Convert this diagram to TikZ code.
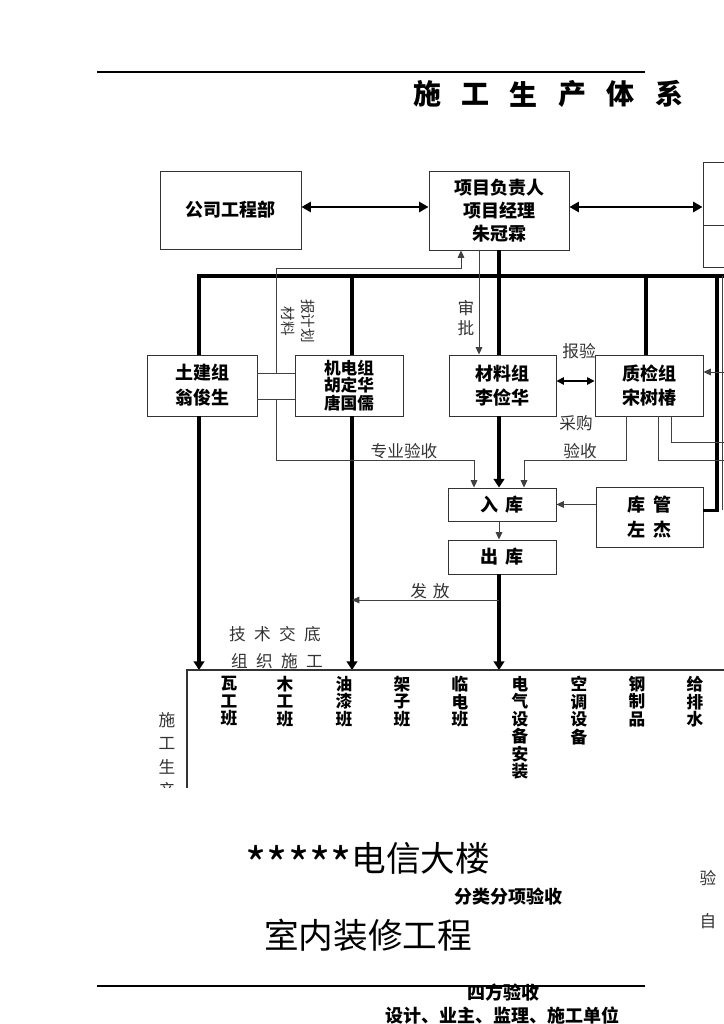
\documentclass[tikz,border=0pt]{standalone}
\usepackage{fontspec}
\setmainfont{Noto Sans CJK SC}
\usetikzlibrary{arrows.meta,calc}
\tikzset{
  box/.style={draw=black!80, line width=0.7pt, inner sep=0pt, align=center, font=\bfseries\fontsize{13.5}{17}\selectfont},
  thk/.style={line width=2.5pt},
  thn/.style={line width=0.65pt, draw=black!75},
  tip/.style={-{Triangle[length=6.5pt,width=8pt]}},
  dtip/.style={{Triangle[length=7pt,width=7.5pt]}-{Triangle[length=7pt,width=7.5pt]}},
  stip/.style={-{Triangle[length=5.5pt,width=5pt]}},
  sdtip/.style={{Triangle[length=5.5pt,width=5.5pt]}-{Triangle[length=5.5pt,width=5.5pt]}},
  lbl/.style={font=\fontsize{12.5}{15}\selectfont, text=black!80, inner sep=0pt, align=center},
  col/.style={font=\bfseries\fontsize{12.5}{13.1}\selectfont, align=center, anchor=north, inner sep=0pt},
  ttl/.style={font=\bfseries\fontsize{21}{24}\selectfont, inner sep=0pt},
  big/.style={font=\fontsize{26}{30}\selectfont, inner sep=0pt},
  bsm/.style={font=\bfseries\fontsize{13.5}{16}\selectfont, inner sep=0pt},
}
\begin{document}
\begin{tikzpicture}[x=0.75pt,y=-0.75pt]
\useasboundingbox (0,0) rectangle (724,1024);
\fill[white] (0,0) rectangle (724,1024);

% header
\coordinate (hl) at (97,72); \coordinate (hr) at (645,72);
\draw[line width=1.1pt] (hl) -- (hr);
\foreach \c [count=\i from 0] in {施,工,生,产,体,系}
  \node[ttl] (t\i) at ({427+48.4*\i},94) {\c};

% helper levels
\coordinate (y207) at (0,207);
\coordinate (y225) at (0,225);
\coordinate (y268) at (0,268);
\coordinate (y372) at (0,372);
\coordinate (y373) at (0,373);
\coordinate (y381) at (0,381);
\coordinate (y399) at (0,399);
\coordinate (y442) at (0,442);
\coordinate (y460) at (0,460);
\coordinate (y600) at (0,600);
\coordinate (x276) at (276,0);
\coordinate (xR) at (735,0);

% boxes
\node[box, minimum width=105.75pt, minimum height=58.5pt] (gc) at (230.5,210) {公司工程部};
\node[box, minimum width=105pt, minimum height=59.25pt, font=\bfseries\fontsize{13.5}{17.25}\selectfont] (pm) at (499,210.5) {项目负责人\\项目经理\\朱冠霖};
\node[box, minimum width=45pt, minimum height=78.75pt] (rb) at (733,214.5) {};
\draw[draw=black!80, line width=0.7pt] (rb.west |- y225) -- (rb.east |- y225);

\node[box, minimum width=82.5pt, minimum height=45.75pt, font=\bfseries\fontsize{13.5}{18.75}\selectfont] (tj) at (202,385.5) {土建组\\翁俊生};
\node[box, minimum width=81pt, minimum height=45.75pt, font=\bfseries\fontsize{12.5}{13.3}\selectfont] (jd) at (349,385.5) {机电组\\胡定华\\唐国儒};
\node[box, minimum width=80.25pt, minimum height=45.75pt, font=\bfseries\fontsize{13.5}{18}\selectfont] (cl) at (502.5,385.5) {材料组\\李俭华};
\node[box, minimum width=81pt, minimum height=45.75pt, font=\bfseries\fontsize{13.5}{18}\selectfont] (zj) at (649,385.5) {质检组\\宋树椿};
\node[box, minimum width=81pt, minimum height=24.75pt] (rk) at (502,504.5) {入\hspace{0.4em}库};
\node[box, minimum width=80.25pt, minimum height=45pt, font=\bfseries\fontsize{13.5}{18.75}\selectfont] (kg) at (649.5,517) {库\hspace{0.4em}管\\左\hspace{0.4em}杰};
\node[box, minimum width=81pt, minimum height=25.5pt] (ck) at (502,557) {出\hspace{0.4em}库};

% top arrows
\draw[line width=2.2pt, dtip] (gc.east |- y207) -- (pm.west |- y207);
\draw[line width=2.2pt, dtip] (pm.east |- y207) -- (rb.west |- y207);

% bus and thick lines
\coordinate (busL) at (199,276);
\coordinate (busR) at (735,276);
\coordinate (v352) at (352,276);
\coordinate (v646) at (646,276);
\coordinate (v717) at (717,276);
\coordinate (v722) at (722,276);
\coordinate (tab) at (187,670);
\coordinate (tabR) at (735,670);
\coordinate (tabB) at (187,800);
\coordinate (kgE) at ([yshift=5pt]kg.east);

\draw[thk] (busL |- tj.north) -- (busL) -- (busR);
\draw[thk] (v352) -- (v352 |- jd.north);
\draw[thk] (pm.south) -- (pm.south |- cl.north);
\draw[thk] (v646) -- (v646 |- zj.north);
\draw[thk] (v717) |- (kgE);
\draw[thk,tip] (busL |- tj.south) -- (busL |- tab);
\draw[thk,tip] (v352 |- jd.south) -- (v352 |- tab);
\draw[thk,tip] (pm.south |- cl.south) -- (pm.south |- rk.north);
\draw[thk,tip] (pm.south |- ck.south) -- (pm.south |- tab);

% thin connectors
\coordinate (pmL) at ([xshift=-28.5pt]pm.south);
\coordinate (pmS) at ([xshift=-15pt]pm.south);
\coordinate (rkL) at ([xshift=-21pt]rk.north);
\coordinate (rkR) at ([xshift=16.5pt]rk.north);
\coordinate (rkS) at ([xshift=-2.25pt]rk.south);
\coordinate (zjA) at ([xshift=24pt]zj.south west);
\coordinate (zjB) at ([xshift=48pt]zj.south west);
\coordinate (zjC) at ([xshift=57.75pt]zj.south west);

\draw[thn] (tj.east |- y373) -- (jd.west |- y373);
\draw[thn] (tj.east |- y399) -- (jd.west |- y399);
\draw[thn,stip] (x276 |- y373) |- (pmL |- y268) -- (pmL);
\draw[thn,stip] (x276 |- y399) |- (rkL |- y460) -- (rkL);
\draw[thn,stip] (pmS) -- (pmS |- cl.north);
\draw[line width=1.1pt, sdtip] (cl.east |- y381) -- (zj.west |- y381);
\draw[thn,stip] (zjA) |- (rkR |- y460) -- (rkR);
\draw[thn] (zjB) |- (xR |- y460);
\draw[thn] (zjC) |- (xR |- y442);
\draw[thn,stip] (xR |- y372) -- (zj.east |- y372);
\draw[thn] (v722) -- (v722 |- kgE);
\draw[thn,stip] (kg.west |- rk.east) -- (rk.east);
\draw[thn,stip] (rkS) -- (rkS |- ck.north);
\draw[thn,stip] (pm.south |- y600) -- (v352 |- y600);

% labels
\node[lbl, rotate=-90, font=\fontsize{11}{15}\selectfont] (lb1) at (298,321) {报计划\\材料};
\node[lbl, font=\fontsize{12.5}{15}\selectfont] (lb2) at (466,318) {审\\批};
\node[lbl] (lb3) at (579,351) {报验};
\node[lbl] (lb4) at (576,423) {采购};
\node[lbl] (lb5) at (580,451) {验收};
\node[lbl] (lb6) at (404,451) {专业验收};
\node[lbl] (lb7) at (430,591) {发\hspace{0.35em}放};
\node[lbl] (lb8) at (275,634) {技\hspace{0.5em}术\hspace{0.5em}交\hspace{0.5em}底};
\node[lbl] (lb9) at (277,661) {组\hspace{0.5em}织\hspace{0.5em}施\hspace{0.5em}工};

% table (cut at the bottom)
\begin{scope}
\clip (0,0) rectangle (724,787);
\draw[line width=0.8pt, draw=black!80] (tabR) -- (tab) -- (tabB);
\node[col] (c1) at (229,676) {瓦\\工\\班};
\node[col] (c2) at (285,676) {木\\工\\班};
\node[col] (c3) at (344,676) {油\\漆\\班};
\node[col] (c4) at (402,676) {架\\子\\班};
\node[col] (c5) at (460,676) {临\\电\\班};
\node[col] (c6) at (520,676) {电\\气\\设\\备\\安\\装};
\node[col] (c7) at (579,676) {空\\调\\设\\备};
\node[col] (c8) at (637,676) {钢\\制\\品};
\node[col] (c9) at (695,676) {给\\排\\水};
\node[lbl, font=\fontsize{12.5}{17.6}\selectfont, anchor=north] (sl) at (167,712) {施\\工\\生\\产};
\end{scope}

% lower texts
\node[big] (b1) at (368,862) {{\fontsize{34}{34}\selectfont\raisebox{-0.22em}{*****}}电信大楼};
\node[bsm] (b2) at (508,897) {分类分项验收};
\node[big] (b3) at (368,935) {室内装修工程};
\node[lbl] (b4) at (708,878) {验};
\node[lbl] (b5) at (708,921) {自};
\coordinate (fl) at (97,986); \coordinate (fr) at (645,986);
\draw[line width=1.1pt] (fl) -- (fr);
\node[bsm] (b6) at (503,993) {四方验收};
\node[bsm] (b7) at (502,1016) {设计、业主、监理、施工单位};
\end{tikzpicture}
\end{document}
